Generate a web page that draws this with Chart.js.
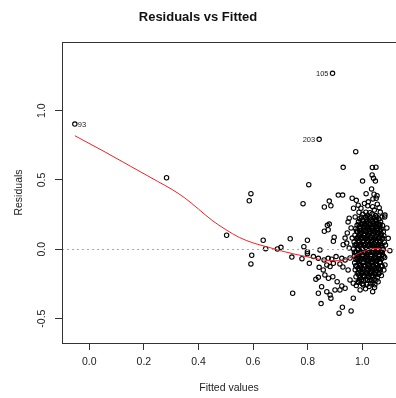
<!DOCTYPE html>
<html>
<head>
<meta charset="utf-8">
<script src="https://cdn.jsdelivr.net/npm/chart.js@4/dist/chart.umd.min.js"></script>
<style>
  html, body { margin: 0; padding: 0; background: #fff; }
  canvas { display: block; }
</style>
</head>
<body>
<canvas id="c" width="396" height="398"></canvas>
<script>
// Axis ticks
const xTicks = [0, 0.2, 0.4, 0.6, 0.8, 1.0];
const yTicks = [-0.5, 0, 0.5, 1.0];

// Observations: [fitted value, residual]
const observations = [
  // low fitted values
  [0.283,0.516],[0.503,0.101],[0.586,0.350],[0.592,0.401],[0.595,-0.043],[0.592,-0.106],
  [0.637,0.065],[0.646,0.004],[0.689,0.002],[0.702,0.014],[0.736,0.076],[0.742,-0.056],[0.745,-0.317],
  [0.804,0.466],[0.783,0.329],[0.799,0.065],[0.786,0.019],[0.799,-0.032],[0.779,-0.068],[0.806,-0.101],
  // high residuals
  [0.976,0.704],[0.930,0.591],[1.037,0.590],[1.050,0.592],
  [1.036,0.536],[1.041,0.512],[1.048,0.492],[1.001,0.492],[1.034,0.435],[1.014,0.401],[1.043,0.397],
  [1.054,0.386],[1.039,0.363],[1.051,0.368],[0.912,0.391],[0.928,0.391],[0.963,0.368],[0.978,0.353],
  [0.879,0.348],[0.885,0.314],[0.861,0.305],[0.968,0.296],[1.020,0.314],[1.038,0.307],[1.044,0.283],
  [1.013,0.267],[1.028,0.264],[0.988,0.267],[0.974,0.233],[0.952,0.224],[1.082,0.233],[1.083,0.247],
  [0.985,0.318],[0.995,0.296],[1.008,0.330],[1.022,0.342],[1.055,0.325],[1.062,0.300],
  // left edge of the main cloud
  [0.872,0.173],[0.879,0.182],[0.861,0.130],[0.875,0.141],[0.897,0.087],[0.894,0.058],[0.937,0.081],
  [0.943,0.045],[0.930,0.033],[0.799,-0.017],[0.821,-0.053],[0.839,-0.065],[0.845,-0.005],[0.860,-0.077],
  [0.875,-0.065],[0.888,-0.072],[0.904,-0.053],[0.925,-0.065],[0.937,-0.077],[0.842,-0.130],[0.857,-0.149],
  [0.870,-0.113],[0.882,-0.125],[0.894,-0.101],[0.918,-0.106],[0.929,-0.128],[0.948,-0.149],[0.830,-0.216],
  [0.839,-0.202],[0.863,-0.185],[0.876,-0.209],[0.892,-0.198],[0.851,-0.270],[0.908,-0.234],[0.925,-0.265],
  [0.937,-0.281],[0.918,-0.293],[0.955,-0.221],[0.967,-0.245],[0.839,-0.317],[0.870,-0.306],[0.882,-0.330],
  [0.885,-0.353],[0.900,-0.293],[0.849,-0.392],[0.927,-0.418],[0.915,-0.461],[0.959,-0.445],[0.967,-0.353],
  [0.992,-0.293],[1.038,-0.306],[0.985,-0.233],[1.004,-0.257],[1.083,-0.113],[1.101,-0.010],[1.095,0.079],
  [1.090,0.154],[1.065,0.175],
  [0.948,0.197],[0.959,0.154],[0.945,0.118],[0.963,0.081],[0.952,0.009],[0.971,-0.019],[0.955,-0.063],
  [1.066,0.268],[1.072,0.232],[1.058,-0.235],[1.045,-0.275],[1.025,-0.268],[1.012,-0.285],[0.978,-0.262],
  [1.082,-0.060],[1.085,0.030],[1.079,-0.150],[1.070,-0.190],
  // dense core
  [1.002,0.252],[1.019,0.246],[1.036,0.255],[1.049,0.243],
  [0.991,0.221],[1.011,0.229],[1.026,0.218],[1.044,0.226],[1.061,0.219],
  [0.986,0.198],[1.004,0.204],[1.017,0.195],[1.037,0.201],[1.051,0.207],[1.067,0.196],
  [0.981,0.173],[0.996,0.179],[1.013,0.171],[1.029,0.177],[1.045,0.169],[1.058,0.181],[1.074,0.172],
  [0.976,0.148],[0.993,0.153],[1.007,0.146],[1.021,0.155],[1.039,0.149],[1.054,0.152],[1.069,0.145],
  [0.983,0.127],[0.998,0.121],[1.014,0.129],[1.031,0.123],[1.047,0.128],[1.061,0.120],[1.077,0.126],
  [0.973,0.102],[0.989,0.097],[1.005,0.104],[1.019,0.099],[1.035,0.101],[1.050,0.096],[1.066,0.103],[1.079,0.098],
  [0.979,0.077],[0.995,0.072],[1.010,0.079],[1.026,0.074],[1.042,0.071],[1.057,0.078],[1.072,0.073],
  [0.970,0.052],[0.986,0.047],[1.002,0.054],[1.016,0.049],[1.033,0.046],[1.048,0.053],[1.063,0.048],[1.081,0.051],
  [0.977,0.026],[0.992,0.021],[1.008,0.028],[1.023,0.023],[1.039,0.027],[1.055,0.020],[1.071,0.025],
  [0.968,0.002],[0.984,-0.003],[0.999,0.004],[1.015,-0.001],[1.030,0.003],[1.046,-0.004],[1.061,0.001],[1.077,-0.002],
  [0.975,-0.023],[0.991,-0.028],[1.006,-0.021],[1.022,-0.026],[1.037,-0.024],[1.052,-0.029],[1.068,-0.022],
  [0.971,-0.048],[0.985,-0.053],[1.001,-0.047],[1.016,-0.052],[1.031,-0.049],[1.047,-0.054],[1.062,-0.046],[1.078,-0.051],
  [0.977,-0.073],[0.993,-0.078],[1.009,-0.072],[1.024,-0.077],[1.040,-0.074],[1.055,-0.079],[1.070,-0.071],
  [0.972,-0.098],[0.987,-0.103],[1.003,-0.097],[1.018,-0.102],[1.034,-0.099],[1.049,-0.104],[1.064,-0.096],
  [0.980,-0.123],[0.995,-0.128],[1.011,-0.121],[1.027,-0.127],[1.042,-0.124],[1.058,-0.129],[1.073,-0.122],
  [0.974,-0.148],[0.990,-0.153],[1.005,-0.147],[1.020,-0.152],[1.036,-0.149],[1.051,-0.154],[1.066,-0.146],
  [0.982,-0.173],[0.997,-0.178],[1.013,-0.171],[1.028,-0.177],[1.044,-0.174],[1.060,-0.179],
  [0.977,-0.198],[0.993,-0.203],[1.008,-0.196],[1.024,-0.202],[1.040,-0.199],[1.055,-0.204],
  [0.990,-0.223],[1.005,-0.228],[1.020,-0.221],[1.035,-0.227],[1.050,-0.224],
  [1.000,-0.248],[1.016,-0.254],[1.031,-0.249],[1.046,-0.256],
  [1.000,0.188],[1.021,0.184],[1.041,0.190],[1.052,0.186],
  [0.990,0.138],[1.006,0.135],[1.023,0.140],[1.038,0.136],[1.055,0.139],
  [0.985,0.088],[1.002,0.085],[1.018,0.090],[1.034,0.086],[1.050,0.089],[1.064,0.084],
  [0.979,0.038],[0.996,0.035],[1.012,0.040],[1.027,0.036],[1.043,0.039],[1.060,0.034],
  [0.991,-0.012],[1.007,-0.015],[1.023,-0.010],[1.038,-0.014],[1.054,-0.011],[1.069,-0.016],
  [0.980,-0.062],[0.996,-0.065],[1.012,-0.060],[1.028,-0.064],[1.043,-0.061],[1.059,-0.066],
  [0.990,-0.112],[1.006,-0.115],[1.021,-0.110],[1.037,-0.114],[1.052,-0.111],
  [1.000,-0.162],[1.016,-0.165],[1.032,-0.160],[1.048,-0.164],
  [1.000,0.212],[1.016,0.215],[1.032,0.210],[1.048,0.214],
  [0.990,0.163],[1.004,0.160],[1.020,0.165],[1.036,0.161],[1.050,0.164],[1.064,0.159],
  [0.993,0.113],[1.009,0.110],[1.025,0.114],[1.041,0.111],[1.057,0.115],[1.070,0.110],
  [0.988,0.063],[1.004,0.060],[1.020,0.064],[1.036,0.061],[1.052,0.065],[1.067,0.060],
  [0.982,0.013],[0.998,0.010],[1.014,0.014],[1.030,0.011],[1.045,0.015],[1.060,0.010],[1.073,0.013],
  [0.985,-0.037],[1.000,-0.040],[1.016,-0.036],[1.032,-0.039],[1.047,-0.035],[1.062,-0.040],[1.074,-0.037],
  [0.990,-0.087],[1.005,-0.090],[1.021,-0.086],[1.037,-0.089],[1.052,-0.085],[1.066,-0.090],
  [0.985,-0.137],[1.000,-0.140],[1.016,-0.136],[1.031,-0.139],[1.046,-0.135],[1.060,-0.140],
  [0.988,-0.187],[1.003,-0.190],[1.018,-0.186],[1.034,-0.189],[1.048,-0.185],
  [0.997,0.231],[1.013,0.233],[1.029,0.229],[1.053,0.232],
  [0.988,0.181],[1.008,0.183],[1.025,0.179],[1.040,0.182],[1.063,0.180],
  [0.979,0.131],[0.995,0.133],[1.011,0.129],[1.027,0.132],[1.043,0.130],[1.066,0.133],
  [0.982,0.081],[0.998,0.083],[1.014,0.079],[1.030,0.082],[1.046,0.080],[1.060,0.083],[1.075,0.079],
  [0.973,0.031],[0.989,0.033],[1.005,0.029],[1.020,0.032],[1.036,0.030],[1.051,0.033],[1.066,0.029],
  [0.979,-0.019],[0.995,-0.017],[1.011,-0.021],[1.027,-0.018],[1.042,-0.020],[1.058,-0.017],[1.073,-0.021],
  [0.985,-0.069],[1.001,-0.067],[1.017,-0.071],[1.032,-0.068],[1.048,-0.070],[1.064,-0.067],
  [0.976,-0.119],[0.992,-0.117],[1.008,-0.121],[1.024,-0.118],[1.039,-0.120],[1.055,-0.117],[1.069,-0.121],
  [0.986,-0.169],[1.002,-0.167],[1.018,-0.171],[1.033,-0.168],[1.049,-0.170],[1.064,-0.167],
  [0.997,-0.219],[1.013,-0.217],[1.028,-0.221],[1.043,-0.218],
  [0.985,-0.240],[1.039,-0.241]
];

// Observations flagged with their row ids
const flaggedIds = ['93', '105', '203'];
const flaggedFitted = [-0.053, 0.891, 0.842];
const flaggedResid = [0.903, 1.269, 0.793];

// Smoothed trend of residuals against fitted values
const smoothFitted = [-0.053, 0.05, 0.15, 0.25, 0.30, 0.35, 0.40, 0.45, 0.50, 0.55, 0.60, 0.65, 0.70, 0.75, 0.80, 0.85, 0.90, 0.95, 1.00, 1.05, 1.095];
const smoothResid  = [0.819, 0.71, 0.60, 0.49, 0.435, 0.37, 0.29, 0.208, 0.142, 0.085, 0.046, 0.018, -0.010, -0.034, -0.055, -0.075, -0.083, -0.065, -0.018, 0.006, -0.010];

const FONT = "'Liberation Sans', Arial, sans-serif";
const INK = '#222';

const pointData = observations.map(([x, y]) => ({ x, y }));
const flaggedData = flaggedFitted.map((x, i) => ({ x, y: flaggedResid[i] }));
const smoothData = smoothFitted.map((x, i) => ({ x, y: smoothResid[i] }));

const plotDecor = {
  id: 'plotDecor',
  afterDatasetsDraw(chart) {
    const { ctx, chartArea: a, scales: { x, y } } = chart;
    // dotted reference line at zero
    ctx.save();
    ctx.strokeStyle = '#a8a8a8';
    ctx.lineWidth = 1;
    ctx.setLineDash([2, 3]);
    const y0 = Math.round(y.getPixelForValue(0)) + 0.5;
    ctx.beginPath();
    ctx.moveTo(a.left, y0);
    ctx.lineTo(a.right, y0);
    ctx.stroke();
    ctx.restore();

    // id labels next to flagged observations
    ctx.save();
    ctx.fillStyle = INK;
    ctx.font = `7.5px ${FONT}`;
    ctx.textBaseline = 'middle';
    flaggedIds.forEach((id, i) => {
      const px = x.getPixelForValue(flaggedFitted[i]);
      const py = y.getPixelForValue(flaggedResid[i]);
      if (flaggedFitted[i] < 0.5) {
        ctx.textAlign = 'left';
        ctx.fillText(id, px + 3, py + 0.5);
      } else {
        ctx.textAlign = 'right';
        ctx.fillText(id, px - 4, py + 0.5);
      }
    });
    ctx.restore();
  },
  afterDraw(chart) {
    const { ctx, chartArea: a, scales: { y } } = chart;
    // plot frame
    ctx.save();
    ctx.strokeStyle = '#333';
    ctx.lineWidth = 1;
    ctx.strokeRect(Math.round(a.left) + 0.5, Math.round(a.top) + 0.5,
                   Math.round(a.right - a.left), Math.round(a.bottom - a.top));
    // y tick labels, written parallel to the axis
    ctx.fillStyle = INK;
    ctx.font = `10.5px ${FONT}`;
    ctx.textAlign = 'center';
    ctx.textBaseline = 'middle';
    yTicks.forEach(v => {
      const py = y.getPixelForValue(v);
      ctx.save();
      ctx.translate(42, py);
      ctx.rotate(-Math.PI / 2);
      ctx.fillText(v.toFixed(1), 0, 0);
      ctx.restore();
    });
    ctx.restore();
  }
};

new Chart(document.getElementById('c'), {
  type: 'scatter',
  data: {
    datasets: [
      {
        type: 'line',
        data: smoothData,
        borderColor: '#e3262b',
        borderWidth: 1,
        pointRadius: 0,
        cubicInterpolationMode: 'monotone',
        fill: false,
        order: 0
      },
      {
        data: pointData,
        pointRadius: 2.2,
        pointBorderWidth: 1.1,
        borderColor: '#000',
        backgroundColor: 'rgba(0,0,0,0)',
        order: 1
      },
      {
        data: flaggedData,
        pointRadius: 2.2,
        pointBorderWidth: 1.1,
        borderColor: '#000',
        backgroundColor: 'rgba(0,0,0,0)',
        order: 1
      }
    ]
  },
  options: {
    responsive: false,
    animation: false,
    events: [],
    layout: { padding: 0, autoPadding: false },
    plugins: {
      legend: { display: false },
      tooltip: { enabled: false },
      title: {
        display: true,
        text: 'Residuals vs Fitted',
        color: '#111',
        font: { family: FONT, size: 13, weight: 'bold' },
        padding: { top: 10, bottom: 16.4 }
      }
    },
    scales: {
      x: {
        type: 'linear',
        min: -0.1,
        max: 1.1235,
        afterBuildTicks: s => { s.ticks = xTicks.map(v => ({ value: v })); },
        afterFit: s => { s.height = 55; },
        grid: { drawOnChartArea: false, drawTicks: true, tickLength: 7, color: '#333' },
        border: { display: false },
        ticks: {
          color: INK,
          padding: 6,
          maxRotation: 0,
          font: { family: FONT, size: 10.5 },
          callback: v => Number(v).toFixed(1)
        },
        title: {
          display: true,
          text: 'Fitted values',
          color: INK,
          font: { family: FONT, size: 10.5 },
          padding: { top: 0, bottom: 3.7 }
        }
      },
      y: {
        type: 'linear',
        min: -0.676,
        max: 1.495,
        afterBuildTicks: s => { s.ticks = yTicks.map(v => ({ value: v })); },
        afterFit: s => { s.width = 62; },
        grid: { drawOnChartArea: false, drawTicks: true, tickLength: 7, color: '#333' },
        border: { display: false },
        ticks: { display: false },
        title: {
          display: true,
          text: 'Residuals',
          color: INK,
          font: { family: FONT, size: 10.5 },
          padding: { top: 12.7, bottom: 0 }
        }
      }
    }
  },
  plugins: [plotDecor]
});
</script>
</body>
</html>
